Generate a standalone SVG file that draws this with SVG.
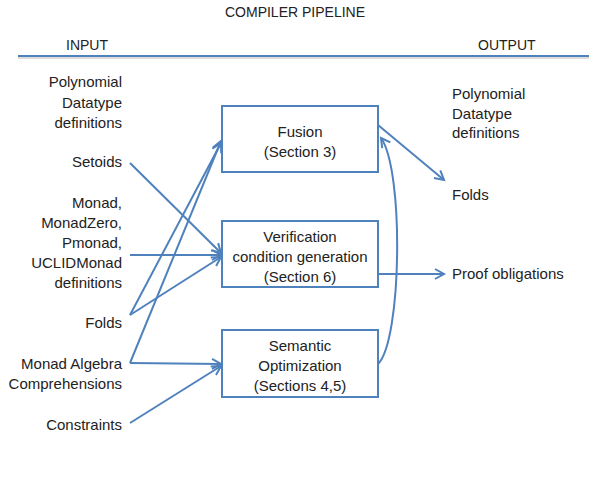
<svg xmlns="http://www.w3.org/2000/svg" width="589" height="497" viewBox="0 0 589 497">
<style>
text{font-family:"Liberation Sans",Arial,sans-serif;font-size:15px;fill:#222}
.h{font-size:14px}
.r{text-anchor:end}
.m{text-anchor:middle}
.box{fill:#fff;stroke:#4f81bd;stroke-width:2}
.c{fill:none;stroke:#4f81bd;stroke-width:2;marker-end:url(#a)}
</style>
<defs>
<marker id="a" markerUnits="userSpaceOnUse" markerWidth="14" markerHeight="14" refX="10" refY="6" orient="auto" viewBox="0 0 14 12">
<path d="M1,1 L10,6 L1,11" fill="none" stroke="#4f81bd" stroke-width="2" stroke-linejoin="miter"/>
</marker>
</defs>
<rect width="589" height="497" fill="#fff"/>
<g id="header">
<text class="m h" x="295" y="17">COMPILER PIPELINE</text>
<text class="h" x="66" y="50">INPUT</text>
<text class="h" x="478" y="50">OUTPUT</text>
<line x1="18" y1="58" x2="589" y2="58" stroke="#ddd" stroke-width="2"/>
<line x1="18" y1="56" x2="589" y2="56" stroke="#4f81bd" stroke-width="2"/>
</g>
<g id="connectors">
<path class="c" d="M130,163 L221,253"/>
<path class="c" d="M130,255 L221,255"/>
<path class="c" d="M130,315 L221,143"/>
<path class="c" d="M130,315 L221,257"/>
<path class="c" d="M130,363 L221,141"/>
<path class="c" d="M130,363 L221,364"/>
<path class="c" d="M130,423 L221,366"/>
<path class="c" d="M378,125 L444,180"/>
<path class="c" d="M378,274 L444,274"/>
<path class="c" d="M378,364 C402,340 404,170 381,138"/>
</g>
<g id="in-poly"><text class="r" x="122" y="87">Polynomial</text><text class="r" x="122" y="108">Datatype</text><text class="r" x="122" y="128">definitions</text></g>
<g id="in-setoids"><text class="r" x="122" y="167">Setoids</text></g>
<g id="in-monad"><text class="r" x="122" y="208">Monad,</text><text class="r" x="122" y="228">MonadZero,</text><text class="r" x="122" y="248">Pmonad,</text><text class="r" x="122" y="268">UCLIDMonad</text><text class="r" x="122" y="288">definitions</text></g>
<g id="in-folds"><text class="r" x="122" y="328">Folds</text></g>
<g id="in-mac"><text class="r" x="122" y="369">Monad Algebra</text><text class="r" x="122" y="389">Comprehensions</text></g>
<g id="in-constraints"><text class="r" x="122" y="430">Constraints</text></g>
<g id="fusion"><rect class="box" x="222" y="106" width="156" height="66"/><text class="m" x="300" y="137">Fusion</text><text class="m" x="300" y="157">(Section 3)</text></g>
<g id="verification"><rect class="box" x="222" y="221" width="156" height="66"/><text class="m" x="300" y="242">Verification</text><text class="m" x="300" y="262">condition generation</text><text class="m" x="300" y="282">(Section 6)</text></g>
<g id="semantic"><rect class="box" x="222" y="330" width="156" height="67"/><text class="m" x="300" y="351">Semantic</text><text class="m" x="300" y="371">Optimization</text><text class="m" x="300" y="391">(Sections 4,5)</text></g>
<g id="out-poly"><text x="452" y="99">Polynomial</text><text x="452" y="119">Datatype</text><text x="452" y="138">definitions</text></g>
<g id="out-folds"><text x="452" y="200">Folds</text></g>
<g id="out-proof"><text x="452" y="279">Proof obligations</text></g>
</svg>
